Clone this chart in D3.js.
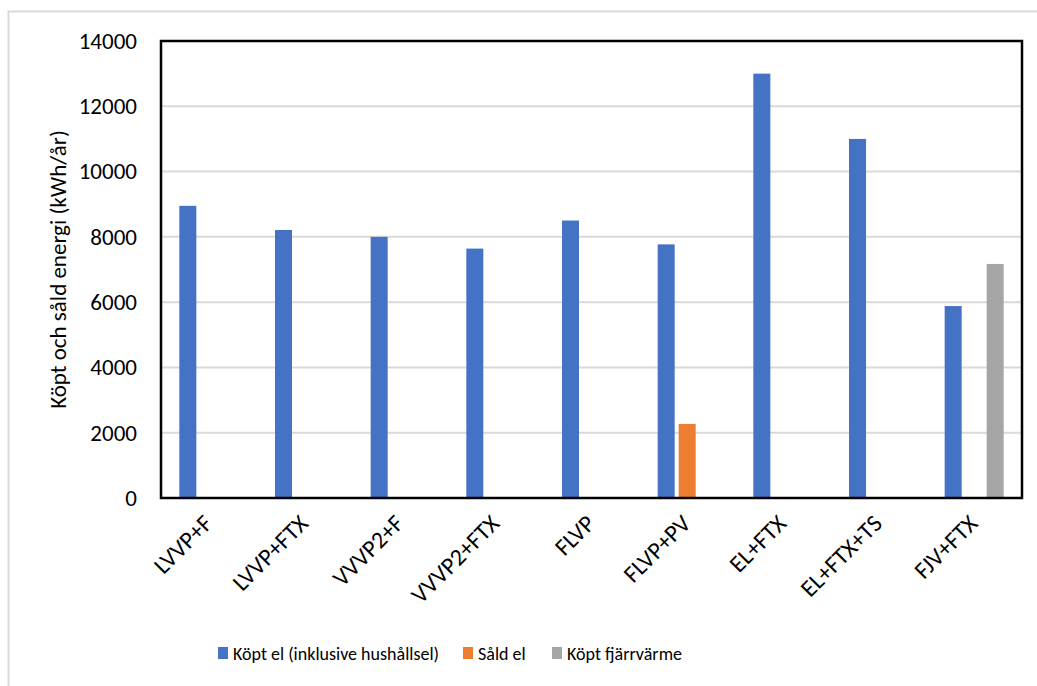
<!DOCTYPE html>
<html>
<head>
<meta charset="utf-8">
<script src="https://cdn.jsdelivr.net/npm/d3@7"></script>
<style>
  html, body { margin: 0; padding: 0; background: #fff; }
  svg { display: block; font-family: Calibri, Carlito, Lato, "Open Sans", sans-serif; }
</style>
</head>
<body>
<svg id="chart" width="1037" height="686"></svg>
<script>
// Building system alternatives
const categories = ["LVVP+F", "LVVP+FTX", "VVVP2+F", "VVVP2+FTX", "FLVP", "FLVP+PV", "EL+FTX", "EL+FTX+TS", "FJV+FTX"];
// Series (kWh/år)
const seriesNames = ["Köpt el (inklusive hushållsel)", "Såld el", "Köpt fjärrvärme"];
const kopEl      = [8950, 8210, 8000, 7640, 8500, 7770, 13000, 11000, 5880];
const saldEl     = [0, 0, 0, 0, 0, 2270, 0, 0, 0];
const kopFjv     = [0, 0, 0, 0, 0, 0, 0, 0, 7170];
const yTicks = [0, 2000, 4000, 6000, 8000, 10000, 12000, 14000];
const colors = ["#4472C4", "#ED7D31", "#A5A5A5"];
const yTitle = "Köpt och såld energi (kWh/år)";

const series = [kopEl, saldEl, kopFjv];
const svg = d3.select("#chart");

// outer chart frame
svg.append("rect")
  .attr("x", 8.5).attr("y", 11.5)
  .attr("width", 1100).attr("height", 800)
  .attr("fill", "none").attr("stroke", "#D9D9D9").attr("stroke-width", 2);

const plot = { left: 161, right: 1022, top: 41, bottom: 498 };

const y = d3.scaleLinear().domain([0, 14000]).range([plot.bottom, plot.top]);
const x0 = d3.scaleBand().domain(categories).range([plot.left, plot.right]).padding(0);
const groupW = 59;
const x1 = d3.scaleBand().domain(d3.range(seriesNames.length))
  .range([(x0.bandwidth() - groupW) / 2, (x0.bandwidth() + groupW) / 2])
  .paddingInner(4 / 21).paddingOuter(0);

// gridlines
svg.append("g")
  .selectAll("line")
  .data(yTicks.filter(d => d > 0))
  .join("line")
  .attr("x1", plot.left).attr("x2", plot.right)
  .attr("y1", d => y(d)).attr("y2", d => y(d))
  .attr("stroke", "#D9D9D9").attr("stroke-width", 2);

// bars
const groups = svg.append("g")
  .selectAll("g")
  .data(categories)
  .join("g")
  .attr("transform", d => `translate(${x0(d)},0)`);

groups.selectAll("rect")
  .data((d, i) => series.map((s, k) => ({ k, v: s[i] })).filter(e => e.v > 0))
  .join("rect")
  .attr("x", d => x1(d.k))
  .attr("width", x1.bandwidth())
  .attr("y", d => y(d.v))
  .attr("height", d => y(0) - y(d.v))
  .attr("fill", d => colors[d.k]);

// plot frame
svg.append("rect")
  .attr("x", plot.left).attr("y", plot.top)
  .attr("width", plot.right - plot.left).attr("height", plot.bottom - plot.top)
  .attr("fill", "none").attr("stroke", "#000").attr("stroke-width", 2.5);

// y axis
const yAxis = d3.axisLeft(y).tickValues(yTicks).tickSize(0).tickPadding(24).tickFormat(d3.format("d"));
svg.append("g")
  .attr("transform", `translate(${plot.left},0)`)
  .call(yAxis)
  .call(g => g.select(".domain").remove())
  .call(g => g.selectAll("text").attr("font-size", 23).attr("fill", "#000")
    .attr("font-family", "Calibri, Carlito, Lato, sans-serif"));

// x axis labels
const xAxis = d3.axisBottom(x0).tickSize(0).tickPadding(0);
svg.append("g")
  .attr("transform", `translate(0,${plot.bottom})`)
  .call(xAxis)
  .call(g => g.select(".domain").remove())
  .call(g => g.selectAll("text")
    .attr("font-size", 24).attr("fill", "#000")
    .attr("font-family", "Calibri, Carlito, Lato, sans-serif")
    .attr("text-anchor", "end")
    .attr("dy", 0)
    .attr("transform", "translate(5,27) rotate(-45)"));

// y axis title
svg.append("text")
  .attr("transform", `translate(66,${(plot.top + plot.bottom) / 2}) rotate(-90)`)
  .attr("text-anchor", "middle")
  .attr("font-size", 23)
  .attr("fill", "#000")
  .text(yTitle);

// legend
const legendX = [218, 463, 552];
const legend = svg.append("g")
  .selectAll("g")
  .data(seriesNames)
  .join("g")
  .attr("transform", (d, i) => `translate(${legendX[i]},647)`);
legend.append("rect").attr("width", 10).attr("height", 12).attr("fill", (d, i) => colors[i]);
legend.append("text")
  .attr("x", 15).attr("y", 7).attr("dy", "0.35em")
  .attr("font-size", 18).attr("fill", "#000")
  .text(d => d);
</script>
</body>
</html>
